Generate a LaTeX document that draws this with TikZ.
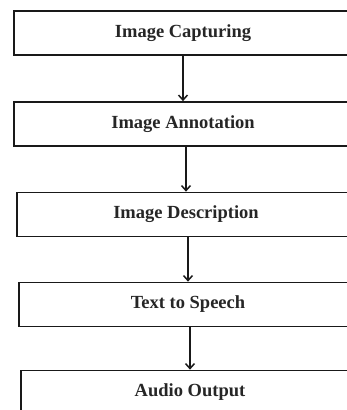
\documentclass[tikz,border=0pt]{standalone}
\usepackage{fontspec}
\setmainfont{Liberation Serif}
\usetikzlibrary{arrows.meta}
\begin{document}
\begin{tikzpicture}[x=1pt,y=1pt,
  stage/.style={draw=black!90, line width=1.7pt, fill=white, inner sep=0pt,
    minimum width=338pt, minimum height=44pt,
    font=\fontsize{18.5}{22}\selectfont\bfseries, text=black!85},
  flow/.style={line width=1.7pt, draw=black!90,
    -{Straight Barb[length=5pt,width=9pt,line width=1.5pt]}}]
  \useasboundingbox (0,0) rectangle (347,-410);
  \clip (0,0) rectangle (347,-410);
  \fill[white] (0,0) rectangle (347,-410);
  \node[stage] (cap)  at (183,-33)    {Image Capturing};
  \node[stage] (ann)  at (183,-124)   {Image Annotation};
  \node[stage] (desc) at (186,-214.5) {Image Description};
  \node[stage] (tts)  at (188,-304.5) {Text to Speech};
  \node[stage] (aud)  at (190,-392.5) {Audio Output};
  \draw[flow] (ann.north |- cap.south) -- (ann.north);
  \draw[flow] (desc.north |- ann.south) -- (desc.north);
  \draw[flow] (tts.north |- desc.south) -- (tts.north);
  \draw[flow] (aud.north |- tts.south) -- (aud.north);
\end{tikzpicture}
\end{document}
